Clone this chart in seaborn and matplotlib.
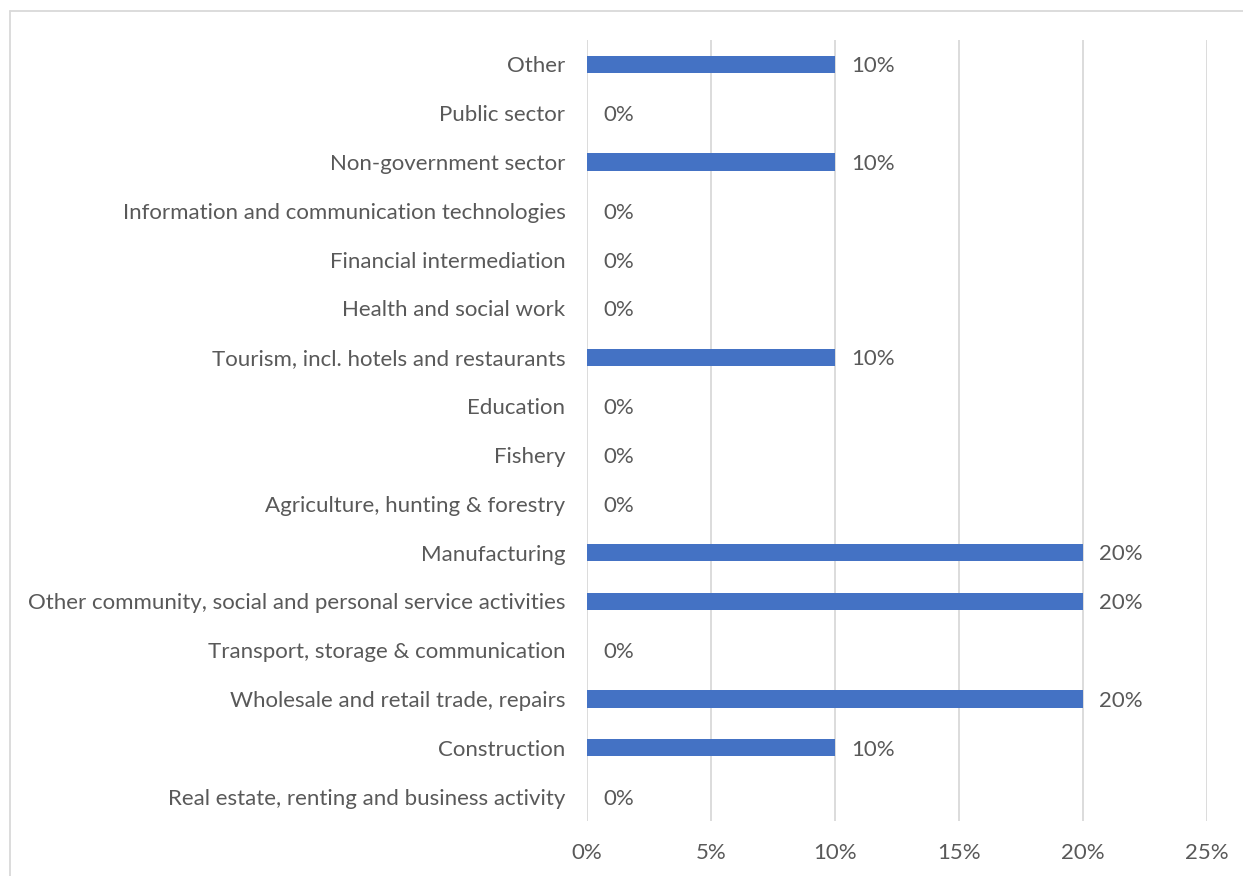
import matplotlib
matplotlib.use("Agg")
import matplotlib.pyplot as plt
from matplotlib.lines import Line2D
from matplotlib.ticker import FuncFormatter
import seaborn as sns
import pandas as pd

sectors = [
    "Other",
    "Public sector",
    "Non-government sector",
    "Information and communication technologies",
    "Financial intermediation",
    "Health and social work",
    "Tourism, incl. hotels and restaurants",
    "Education",
    "Fishery",
    "Agriculture, hunting & forestry",
    "Manufacturing",
    "Other community, social and personal service activities",
    "Transport, storage & communication",
    "Wholesale and retail trade, repairs",
    "Construction",
    "Real estate, renting and business activity",
]
shares = [10, 0, 10, 0, 0, 0, 10, 0, 0, 0, 20, 20, 0, 20, 10, 0]
x_ticks = [0, 5, 10, 15, 20, 25]

BAR = "#4472C4"
TXT = "#595959"
GRID = "#D9D9D9"
FS = 16

sns.set_theme(style="white")
plt.rcParams["font.family"] = ["Lato", "DejaVu Sans"]

df = pd.DataFrame({"sector": sectors, "share": shares})

W, H = 1243, 876
fig = plt.figure(figsize=(W / 100, H / 100), dpi=100)
ax = fig.add_axes([587 / W, 1 - 821 / H, (1207 - 587) / W, (821 - 40) / H])

sns.barplot(data=df, x="share", y="sector", orient="h", color=BAR,
            width=0.35, saturation=1, linewidth=0, ax=ax, zorder=3)

ax.set_xlim(0, 25)
ax.set_xticks(x_ticks)
ax.xaxis.set_major_formatter(FuncFormatter(lambda v, _: f"{v:.0f}%"))
for v in x_ticks:
    ax.axvline(v, color=GRID, lw=1.3, zorder=1)

for i, v in enumerate(shares):
    ax.text(v + 0.65, i + 0.04, f"{v}%", va="center", ha="left",
            fontsize=FS, color=TXT)

ax.set_xlabel("")
ax.set_ylabel("")
for s in ax.spines.values():
    s.set_visible(False)
ax.tick_params(axis="both", length=0, labelsize=FS, labelcolor=TXT)
ax.tick_params(axis="y", pad=15.5)
ax.tick_params(axis="x", pad=16)

# chart frame (top and left edges)
fig.add_artist(Line2D([10 / W, 1], [1 - 11 / H, 1 - 11 / H],
                      transform=fig.transFigure, color=GRID, lw=1.3))
fig.add_artist(Line2D([10 / W, 10 / W], [0, 1 - 11 / H],
                      transform=fig.transFigure, color=GRID, lw=1.3))

fig.savefig("out.png", dpi=100, facecolor="white")
